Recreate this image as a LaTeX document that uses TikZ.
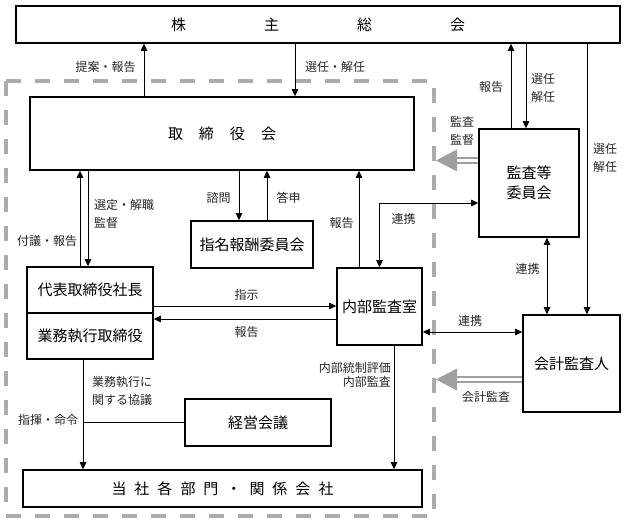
\documentclass[tikz,border=0pt]{standalone}
\usepackage{fontspec}
\setmainfont{Noto Sans CJK JP}
\usetikzlibrary{arrows.meta,calc}
\begin{document}
\begin{tikzpicture}[x=1pt,y=-1pt,
  box/.style={draw,line width=1.6pt,rectangle,inner sep=0pt,font=\fontsize{15}{20}\selectfont,align=center},
  lab/.style={font=\fontsize{12}{18}\selectfont,inner sep=0pt,text=black!85,align=center},
  con/.style={line width=0.9pt},
  arr/.style={con,-{Triangle[length=7pt,width=6.5pt]}},
  barr/.style={con,{Triangle[length=7pt,width=6.5pt]}-{Triangle[length=7pt,width=6.5pt]}},
  dbl/.style={draw=gray!75,line width=1.5pt,double=white,double distance=3.2pt},
  headfill/.style={fill=gray!75},
  grp/.style={draw=gray!65,line width=4.5pt,dash pattern=on 15pt off 14pt},
]
\useasboundingbox (0,0) rectangle (624,524);

% group frame
\draw[grp] (6,81) rectangle (434,516);

% boxes
\node[box,minimum width=604pt,minimum height=37pt] (kabu) at (318,24.5) {株\hskip 78pt 主\hskip 78pt 総\hskip 78pt 会};
\node[box,minimum width=384pt,minimum height=73pt] (tori) at (222,133.5) {取\hskip 16pt 締\hskip 16pt 役\hskip 16pt 会};
\node[box,minimum width=126pt,minimum height=46pt] (daihyo) at (90,290) {代表取締役社長};
\node[box,minimum width=126pt,minimum height=46pt] (gyomu) at (90,336) {業務執行取締役};
\node[box,minimum width=122pt,minimum height=47pt] (shimei) at (252,244.5) {指名報酬委員会};
\node[box,minimum width=85pt,minimum height=77pt] (naibu) at (379.5,306.5) {内部監査室};
\node[box,minimum width=100pt,minimum height=108pt] (kansa) at (529,183) {監査等\\委員会};
\node[box,minimum width=97pt,minimum height=97pt] (kaikei) at (571.5,363.5) {会計監査人};
\node[box,minimum width=146pt,minimum height=47pt] (keiei) at (258,422.5) {経営会議};
\node[box,minimum width=399pt,minimum height=37pt] (tosha) at (222.5,488.5) {当\hskip 8pt 社\hskip 8pt 各\hskip 8pt 部\hskip 8pt 門\hskip 8pt ・\hskip 8pt 関\hskip 8pt 係\hskip 8pt 会\hskip 8pt 社};

% helper coordinates
\coordinate (x144) at (144,0);
\coordinate (x295) at (295,0);
\coordinate (x511) at (511,0);
\coordinate (x526) at (526,0);
\coordinate (x587) at (587,0);
\coordinate (x80) at (80,0);
\coordinate (x88) at (88,0);
\coordinate (x239) at (239,0);
\coordinate (x267) at (267,0);
\coordinate (x359) at (359,0);
\coordinate (x547) at (547,0);
\coordinate (x83) at (83,0);
\coordinate (x394) at (394,0);
\coordinate (y203) at (0,203);
\coordinate (y306) at (0,306);
\coordinate (y319) at (0,319);
\coordinate (y332) at (0,332);
\coordinate (y422) at (0,422);
\coordinate (t1) at (436,160.5);
\coordinate (t2) at (436,379.5);

% connectors
\draw[arr] (tori.north -| x144) -- (kabu.south -| x144);
\draw[arr] (kabu.south -| x295) -- (tori.north -| x295);
\draw[arr] (kansa.north -| x511) -- (kabu.south -| x511);
\draw[arr] (kabu.south -| x526) -- (kansa.north -| x526);
\draw[arr] (kabu.south -| x587) -- (kaikei.north -| x587);
\draw[arr] (daihyo.north -| x80) -- (tori.south -| x80);
\draw[arr] (tori.south -| x88) -- (daihyo.north -| x88);
\draw[arr] (tori.south -| x239) -- (shimei.north -| x239);
\draw[arr] (shimei.north -| x267) -- (tori.south -| x267);
\draw[arr] (naibu.north -| x359) -- (tori.south -| x359);
\draw[barr] (naibu.north) |- (kansa.west |- y203);
\draw[arr] (daihyo.east |- y306) -- (naibu.west |- y306);
\draw[arr] (naibu.west |- y319) -- (gyomu.east |- y319);
\draw[barr] (kansa.south -| x547) -- (kaikei.north -| x547);
\draw[barr] (naibu.east |- y332) -- (kaikei.west |- y332);
\draw[arr] (gyomu.south -| x83) -- (tosha.north -| x83);
\draw[con] (x83 |- y422) -- (keiei.west |- y422);
\draw[arr] (naibu.south -| x394) -- (tosha.north -| x394);

% gray audit arrows
\draw[dbl] (kansa.west |- t1) -- ([xshift=18pt]t1);
\fill[headfill] (t1) -- ++(21,-11) -- ++(0,22) -- cycle;
\draw[dbl] (kaikei.west |- t2) -- ([xshift=18pt]t2);
\fill[headfill] (t2) -- ++(21,-11) -- ++(0,22) -- cycle;

% labels
\node[lab] (l1) at (105.5,67) {提案・報告};
\node[lab] (l2) at (335,67) {選任・解任};
\node[lab] (l3) at (491,87) {報告};
\node[lab] (l4) at (543,88) {選任\\解任};
\node[lab] (l5) at (605,157.5) {選任\\解任};
\node[lab] (l6) at (462,131) {監査\\監督};
\node[lab] (l7) at (47,241) {付議・報告};
\node[lab,align=left,anchor=west] (l8) at (94,214) {選定・解職\\監督};
\node[lab] (l9) at (218.5,198) {諮問};
\node[lab] (l10) at (288.5,198) {答申};
\node[lab] (l11) at (341.5,223) {報告};
\node[lab] (l12) at (403.5,219) {連携};
\node[lab] (l13) at (246.5,295) {指示};
\node[lab] (l14) at (246.5,332) {報告};
\node[lab] (l15) at (527.5,269) {連携};
\node[lab] (l16) at (470,321) {連携};
\node[lab] (l17) at (486,397) {会計監査};
\node[lab,align=left,anchor=west] (l18) at (92,390.5) {業務執行に\\関する協議};
\node[lab] (l19) at (48,420) {指揮・命令};
\node[lab,align=right,anchor=east,font=\fontsize{12}{14}\selectfont] (l20) at (391,375) {内部統制評価\\内部監査};
\end{tikzpicture}
\end{document}
